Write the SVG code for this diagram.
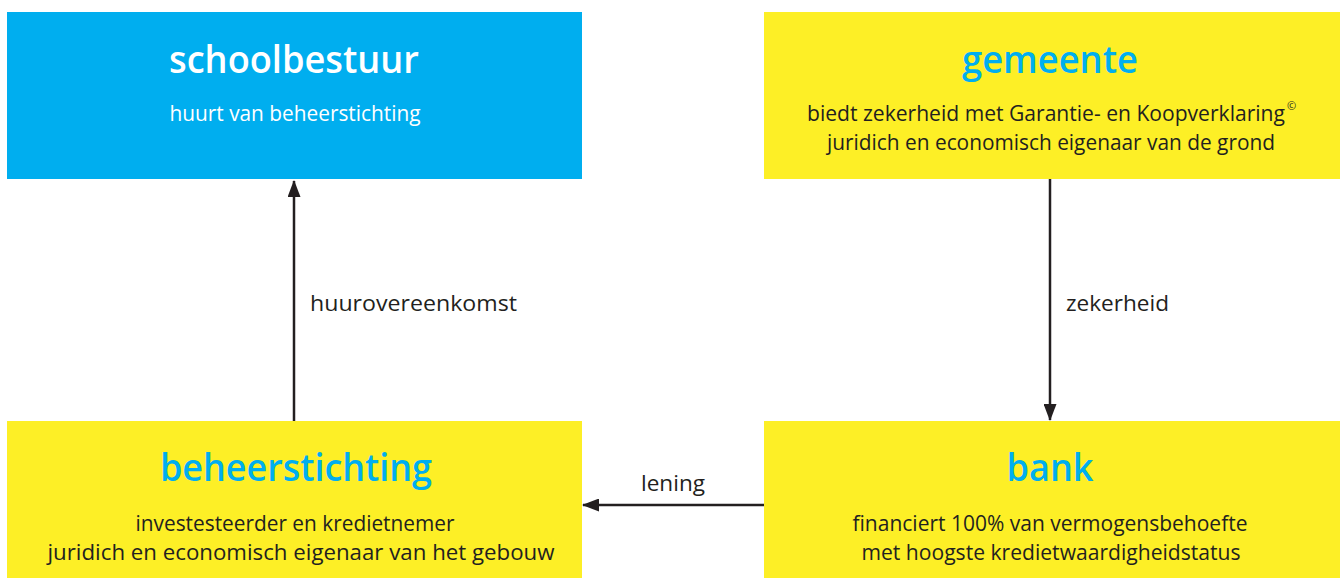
<svg xmlns="http://www.w3.org/2000/svg" width="1340" height="578" viewBox="0 0 1340 578">
  <style>
    .box-blue { fill: #00aeef; }
    .box-yellow { fill: #fdef26; }
    .title { font-family: "Open Sans", "Noto Sans", sans-serif; font-weight: 600; font-size: 38px; text-anchor: middle; }
    .title-white { fill: #ffffff; }
    .title-blue { fill: #00aeef; }
    .body { font-family: "Open Sans", "Noto Sans", sans-serif; font-size: 21.5px; text-anchor: middle; fill: #231f20; }
    .body-white { fill: #ffffff; }
    .sup { font-family: "Open Sans", "Noto Sans", sans-serif; font-size: 11px; fill: #231f20; }
    .label { font-family: "Open Sans", "Noto Sans", sans-serif; font-size: 22px; fill: #231f20; }
    .edge { stroke: #231f20; stroke-width: 2.5; fill: none; }
  </style>
  <defs>
    <marker id="arrow" viewBox="0 0 17 13" refX="16" refY="6.5" markerWidth="17" markerHeight="13" markerUnits="userSpaceOnUse" orient="auto">
      <path d="M0,0 L17,6.5 L0,13 Z" fill="#231f20"/>
    </marker>
  </defs>

  <g id="connectors">
    <line class="edge" x1="294" y1="421" x2="294" y2="181" marker-end="url(#arrow)"/>
    <text class="label" x="310" y="311" textLength="207" lengthAdjust="spacingAndGlyphs">huurovereenkomst</text>
    <line class="edge" x1="1050" y1="179" x2="1050" y2="420" marker-end="url(#arrow)"/>
    <text class="label" x="1066" y="311" textLength="103" lengthAdjust="spacingAndGlyphs">zekerheid</text>
    <line class="edge" x1="764" y1="505" x2="583" y2="505" marker-end="url(#arrow)"/>
    <text class="label" x="641" y="491" textLength="64" lengthAdjust="spacingAndGlyphs">lening</text>
  </g>

  <g id="schoolbestuur">
    <rect class="box-blue" x="7" y="12" width="575" height="167"/>
    <text class="title title-white" x="294" y="73" textLength="250" lengthAdjust="spacingAndGlyphs">schoolbestuur</text>
    <text class="body body-white" x="295" y="121" textLength="251" lengthAdjust="spacingAndGlyphs">huurt van beheerstichting</text>
  </g>

  <g id="gemeente">
    <rect class="box-yellow" x="764" y="12" width="576" height="167"/>
    <text class="title title-blue" x="1050" y="73" textLength="176" lengthAdjust="spacingAndGlyphs">gemeente</text>
    <text class="body" x="1046" y="121" textLength="478" lengthAdjust="spacingAndGlyphs">biedt zekerheid met Garantie- en Koopverklaring</text>
    <text class="sup" x="1287" y="110">©</text>
    <text class="body" x="1051" y="150" textLength="448" lengthAdjust="spacingAndGlyphs">juridich en economisch eigenaar van de grond</text>
  </g>

  <g id="beheerstichting">
    <rect class="box-yellow" x="7" y="421" width="575" height="157"/>
    <text class="title title-blue" x="296" y="481" textLength="272" lengthAdjust="spacingAndGlyphs">beheerstichting</text>
    <text class="body" x="295" y="531" textLength="319" lengthAdjust="spacingAndGlyphs">investesteerder en kredietnemer</text>
    <text class="body" x="301" y="560" textLength="507" lengthAdjust="spacingAndGlyphs">juridich en economisch eigenaar van het gebouw</text>
  </g>

  <g id="bank">
    <rect class="box-yellow" x="764" y="421" width="576" height="157"/>
    <text class="title title-blue" x="1050" y="481" textLength="87" lengthAdjust="spacingAndGlyphs">bank</text>
    <text class="body" x="1050" y="531" textLength="395" lengthAdjust="spacingAndGlyphs">financiert 100% van vermogensbehoefte</text>
    <text class="body" x="1051" y="560" textLength="379" lengthAdjust="spacingAndGlyphs">met hoogste kredietwaardigheidstatus</text>
  </g>
</svg>
